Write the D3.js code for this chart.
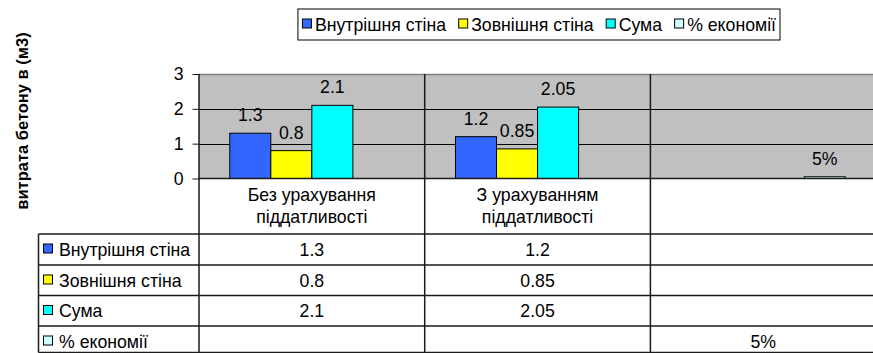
<!DOCTYPE html>
<html>
<head>
<meta charset="utf-8">
<script src="https://cdn.jsdelivr.net/npm/d3@7"></script>
<style>
  html, body { margin: 0; padding: 0; background: #fff; }
  svg { display: block; font-family: "Liberation Sans", Arial, sans-serif; }
</style>
</head>
<body>
<svg id="chart" width="873" height="353"></svg>
<script>
// ---- data ----
const categories = ["Без урахування піддатливості", "З урахуванням піддатливості", ""];
const seriesNames = ["Внутрішня стіна", "Зовнішня стіна", "Сума", "% економії"];
const innerWall = [1.3, 1.2, null];
const outerWall = [0.8, 0.85, null];
const total = [2.1, 2.05, null];
const savings = [null, null, 0.05];
const yTicks = [0, 1, 2, 3];
const yTitle = "витрата бетону в (м3)";

const seriesValues = [innerWall, outerWall, total, savings];
const seriesColors = ["#3366FF", "#FFFF00", "#00FFFF", "#CCFFFF"];
const fmt = (si, v) => si === 3 ? d3.format(".0%")(v) : String(v);

// ---- layout ----
const svg = d3.select("#chart");
const FS = 17.7;
const plotLeft = 199, plotTop = 74, plotBottom = 178.5;
const bandW = 225.7;
const plotRight = plotLeft + bandW * categories.length;
const tableLeft = 38.5;
const rowLines = [234, 265, 295.5, 326, 352.5];
const lineColor = "#1a1a1a";

const x0 = d3.scaleBand().domain(d3.range(categories.length)).range([plotLeft, plotRight]);
const x1 = d3.scaleBand().domain(d3.range(seriesNames.length)).range([0, x0.bandwidth()])
  .paddingInner(0).paddingOuter(0.75);
const y = d3.scaleLinear().domain([0, 3]).range([plotBottom, plotTop]);

// plot background
svg.append("rect")
  .attr("x", plotLeft).attr("y", plotTop)
  .attr("width", plotRight - plotLeft).attr("height", plotBottom - plotTop)
  .attr("fill", "#C0C0C0");

// top border of plot area
svg.append("line")
  .attr("x1", plotLeft).attr("x2", plotRight)
  .attr("y1", plotTop + 0.5).attr("y2", plotTop + 0.5)
  .attr("stroke", "#808080").attr("stroke-width", 1.5);

// gridlines
svg.append("g").selectAll("line").data(yTicks.filter(d => d > 0 && d < 3)).join("line")
  .attr("x1", plotLeft).attr("x2", plotRight)
  .attr("y1", d => Math.round(y(d)) + 0.5).attr("y2", d => Math.round(y(d)) + 0.5)
  .attr("stroke", "#000").attr("stroke-width", 1);

// bars
const bars = [];
seriesValues.forEach((vals, si) => vals.forEach((v, ci) => {
  if (v != null) bars.push({ si, ci, v });
}));
svg.append("g").selectAll("rect").data(bars).join("rect")
  .attr("x", d => x0(d.ci) + x1(d.si))
  .attr("y", d => y(d.v))
  .attr("width", x1.bandwidth())
  .attr("height", d => y(0) - y(d.v))
  .attr("fill", d => seriesColors[d.si])
  .attr("stroke", "#000").attr("stroke-width", 1);

// data labels
svg.append("g").selectAll("text").data(bars).join("text")
  .attr("x", d => x0(d.ci) + x1(d.si) + x1.bandwidth() / 2)
  .attr("y", d => y(d.v) - 12)
  .attr("text-anchor", "middle")
  .attr("font-size", FS).attr("fill", "#000")
  .text(d => fmt(d.si, d.v));

// y axis
const yAxis = d3.axisLeft(y).tickValues(yTicks).tickSize(7).tickPadding(9).tickFormat(d3.format("d"));
const ya = svg.append("g").attr("transform", `translate(${plotLeft + 0.5},0)`).call(yAxis);
ya.select(".domain").remove();
ya.selectAll(".tick line").attr("stroke", lineColor);
ya.selectAll(".tick text").attr("font-size", FS).attr("font-family", "Liberation Sans, Arial, sans-serif")
  .attr("fill", "#000");

// x axis line
svg.append("line")
  .attr("x1", plotLeft).attr("x2", plotRight)
  .attr("y1", plotBottom).attr("y2", plotBottom)
  .attr("stroke", lineColor).attr("stroke-width", 1.5);

// vertical lines: axis and category dividers through the data table
d3.range(categories.length + 1).forEach(i => {
  const xx = i < categories.length ? x0(i) : plotRight;
  svg.append("line")
    .attr("x1", xx).attr("x2", xx)
    .attr("y1", plotTop).attr("y2", rowLines[rowLines.length - 1])
    .attr("stroke", lineColor).attr("stroke-width", 1.5);
});

// table row lines
rowLines.forEach(ry => {
  svg.append("line")
    .attr("x1", tableLeft).attr("x2", plotRight)
    .attr("y1", ry).attr("y2", ry)
    .attr("stroke", lineColor).attr("stroke-width", 1.5);
});
svg.append("line")
  .attr("x1", tableLeft).attr("x2", tableLeft)
  .attr("y1", rowLines[0]).attr("y2", rowLines[rowLines.length - 1])
  .attr("stroke", lineColor).attr("stroke-width", 1.5);

// category labels (two lines, split at last space)
categories.forEach((c, ci) => {
  if (!c) return;
  const k = c.lastIndexOf(" ");
  const lines = [c.slice(0, k), c.slice(k + 1)];
  const t = svg.append("text")
    .attr("text-anchor", "middle").attr("font-size", FS).attr("fill", "#000");
  lines.forEach((ln, li) => {
    t.append("tspan").attr("x", x0(ci) + x0.bandwidth() / 2).attr("y", 201 + li * 21.5).text(ln);
  });
});

// table rows: key, series name, values
seriesNames.forEach((name, si) => {
  const cy = rowLines[si] + 15.5;
  svg.append("rect")
    .attr("x", 43.5).attr("y", cy - 5.5).attr("width", 9).attr("height", 9)
    .attr("fill", seriesColors[si]).attr("stroke", "#000").attr("stroke-width", 1);
  svg.append("text")
    .attr("x", 59).attr("y", cy + 6)
    .attr("font-size", FS).attr("fill", "#000").text(name);
  seriesValues[si].forEach((v, ci) => {
    if (v == null) return;
    svg.append("text")
      .attr("x", x0(ci) + x0.bandwidth() / 2).attr("y", cy + 6)
      .attr("text-anchor", "middle").attr("font-size", FS).attr("fill", "#000")
      .text(fmt(si, v));
  });
});

// y axis title
svg.append("text")
  .attr("transform", "translate(28,121) rotate(-90)")
  .attr("text-anchor", "middle")
  .attr("font-size", 16.5).attr("font-weight", "bold").attr("fill", "#000")
  .text(yTitle);

// legend
const legend = svg.append("g");
const legTop = 9, legBottom = 40, legCy = (legTop + legBottom) / 2;
let cx = 0;
seriesNames.forEach((name, si) => {
  const g = legend.append("g");
  g.append("rect")
    .attr("x", cx + 0.5).attr("y", legCy - 5.5).attr("width", 9).attr("height", 9)
    .attr("fill", seriesColors[si]).attr("stroke", "#000").attr("stroke-width", 1);
  const t = g.append("text")
    .attr("x", cx + 13).attr("y", legCy + 6)
    .attr("font-size", FS).attr("fill", "#000").text(name);
  cx += 13 + t.node().getComputedTextLength() + 12;
});
const legW = cx - 12;
const legRight = 780;
const legLeft = legRight - legW - 8;
legend.attr("transform", `translate(${legLeft + 4},0)`);
legend.insert("rect", ":first-child")
  .attr("x", -4).attr("y", legTop).attr("width", legW + 8).attr("height", legBottom - legTop)
  .attr("fill", "#fff").attr("stroke", "#000").attr("stroke-width", 1);
</script>
</body>
</html>
